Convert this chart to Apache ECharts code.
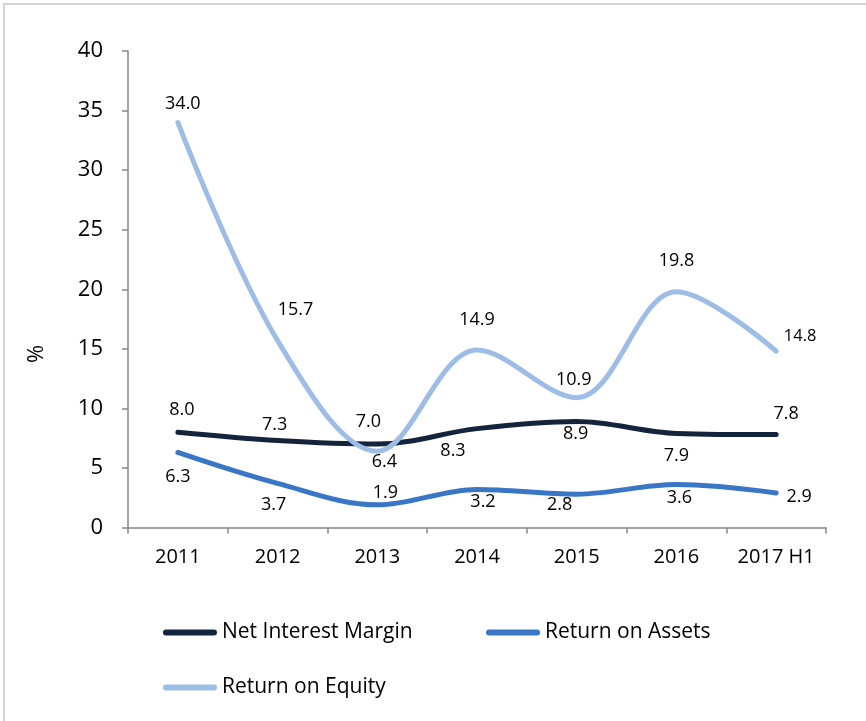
<!DOCTYPE html>
<html>
<head>
<meta charset="utf-8">
<title>Net Interest Margin, ROA and ROE</title>
<script src="https://cdn.jsdelivr.net/npm/echarts@6/dist/echarts.min.js"></script>
<style>
  html, body { margin: 0; padding: 0; background: #ffffff; }
  #chart { width: 866px; height: 721px; }
</style>
</head>
<body>
<div id="chart"></div>
<script>
// Categories and values (percent)
var years = ['2011', '2012', '2013', '2014', '2015', '2016', '2017 H1'];
var netInterestMargin = [8.0, 7.3, 7.0, 8.3, 8.9, 7.9, 7.8];
var returnOnAssets = [6.3, 3.7, 1.9, 3.2, 2.8, 3.6, 2.9];
var returnOnEquity = [34.0, 15.7, 6.4, 14.9, 10.9, 19.8, 14.8];
var yTicks = [0, 5, 10, 15, 20, 25, 30, 35, 40];

// Where each value label sits relative to its point, in pixels [dx, dy]
var nimLabelShift = [[4, -22], [-3, -16], [-9, -22], [-24, 22], [-1, 12], [0, 22], [10, -21]];
var roaLabelShift = [[0, 24], [-4, 21], [8, -12], [6, 12], [-17, 11], [3, 13], [23, 4]];
var roeLabelShift = [[5, -19], [18, -31], [7, 11], [0, -30], [-3, -18], [0, -31], [24, -15]];

var FONT = 'Open Sans';
var colors = { nim: '#14243d', roa: '#3a76c6', roe: '#9dbde6' };

function withLabels(values, shifts, lastSize) {
  return values.map(function (v, i) {
    return {
      value: v,
      label: {
        show: true,
        position: 'inside',
        offset: shifts[i],
        formatter: v.toFixed(1),
        fontSize: (lastSize && i === values.length - 1) ? lastSize : 18,
        fontFamily: FONT,
        color: '#000000'
      }
    };
  });
}

function lineSeries(name, values, shifts, color, lastSize) {
  return {
    name: name,
    type: 'line',
    smooth: 0.35,
    showSymbol: true,
    symbol: 'circle',
    symbolSize: 0.01,
    color: color,
    itemStyle: { color: color },
    lineStyle: { color: color, width: 5, cap: 'round', join: 'round' },
    data: withLabels(values, shifts, lastSize),
    z: 3
  };
}

var legendIcon = 'path://M3,0H51A3,3 0 0 1 51,6H3A3,3 0 0 1 3,0Z';
function legendAt(name, left, top) {
  return {
    data: [name],
    left: left,
    top: top,
    orient: 'horizontal',
    icon: legendIcon,
    itemWidth: 54,
    itemHeight: 6,
    padding: 0,
    selectedMode: false,
    textStyle: { fontFamily: FONT, fontSize: 21, color: '#000000' }
  };
}

var chart = echarts.init(document.getElementById('chart'), null, { renderer: 'canvas' });
chart.setOption({
  backgroundColor: '#ffffff',
  animation: false,
  grid: { left: 128, right: 40, top: 51, bottom: 193.5, containLabel: false },
  xAxis: {
    type: 'category',
    data: years,
    boundaryGap: true,
    axisLine: { show: true, lineStyle: { color: '#868686', width: 1.5 } },
    axisTick: { show: true, length: 6, interval: 0, lineStyle: { color: '#868686', width: 1.5 } },
    axisLabel: { interval: 0, fontFamily: FONT, fontSize: 20, color: '#000000', margin: 20 },
    splitLine: { show: false }
  },
  yAxis: {
    type: 'value',
    min: yTicks[0],
    max: yTicks[yTicks.length - 1],
    interval: yTicks[1] - yTicks[0],
    axisLine: { show: true, lineStyle: { color: '#868686', width: 1.5 } },
    axisTick: { show: true, length: 6, lineStyle: { color: '#868686', width: 1.5 } },
    axisLabel: { fontFamily: FONT, fontSize: 22, color: '#000000', margin: 25 },
    splitLine: { show: false }
  },
  legend: [
    legendAt('Net Interest Margin', 163, 622),
    legendAt('Return on Assets', 486, 622),
    legendAt('Return on Equity', 163, 677)
  ],
  graphic: [
    {
      type: 'rect',
      shape: { x: 4, y: 4, width: 900, height: 800 },
      style: { fill: 'none', stroke: '#d4d4d4', lineWidth: 2 },
      silent: true,
      z: -10
    },
    {
      type: 'text',
      x: 37,
      y: 354,
      rotation: Math.PI / 2,
      style: {
        text: '%',
        fontFamily: FONT,
        fontSize: 22,
        fill: '#000000',
        align: 'center',
        verticalAlign: 'middle'
      }
    }
  ],
  series: [
    lineSeries('Net Interest Margin', netInterestMargin, nimLabelShift, colors.nim),
    lineSeries('Return on Assets', returnOnAssets, roaLabelShift, colors.roa),
    lineSeries('Return on Equity', returnOnEquity, roeLabelShift, colors.roe, 16.5)
  ]
});
</script>
</body>
</html>
